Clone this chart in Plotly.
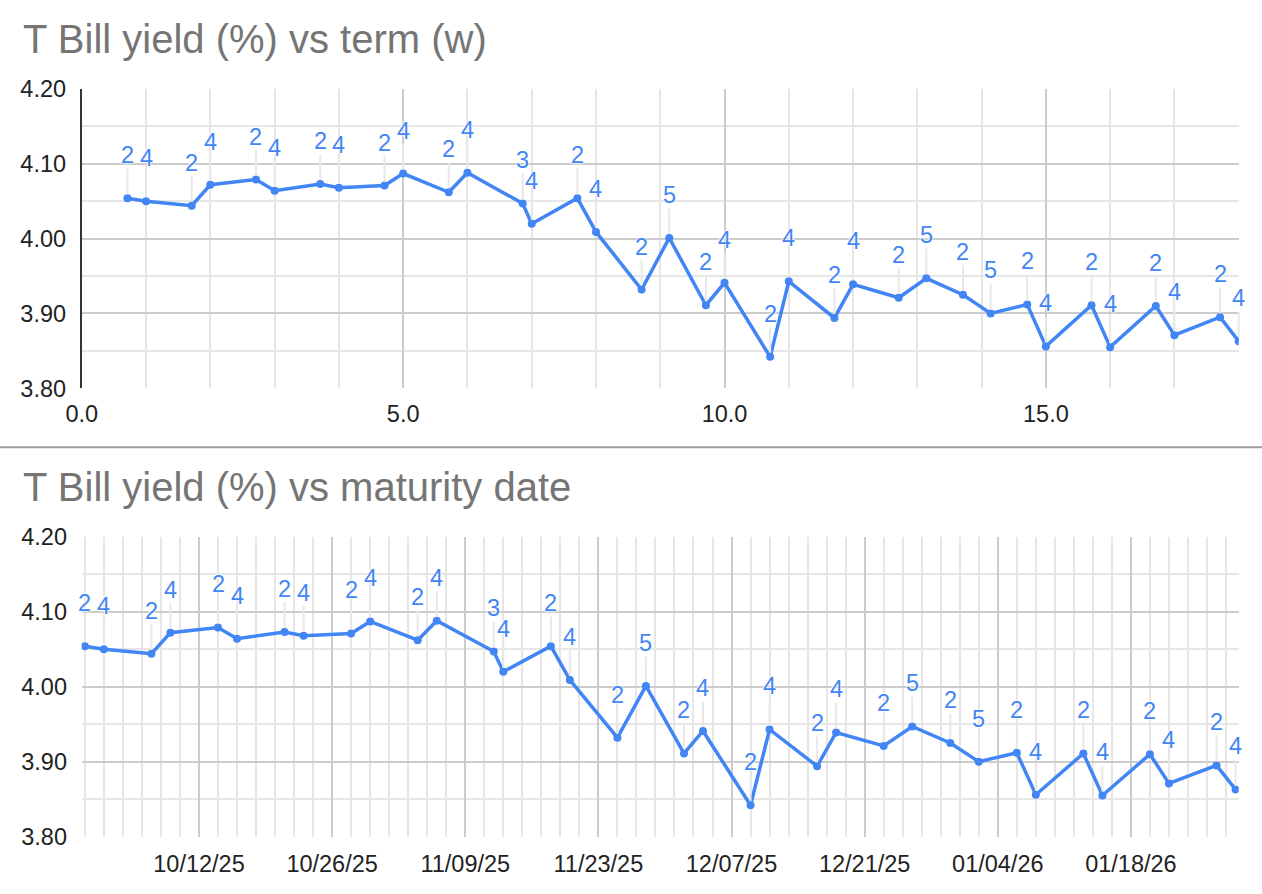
import plotly.graph_objects as go

# ---- data ----
term_weeks = [0.71, 1.0, 1.71, 2.0, 2.71, 3.0, 3.71, 4.0, 4.71, 5.0, 5.71, 6.0,
              6.86, 7.0, 7.71, 8.0, 8.71, 9.14, 9.71, 10.0, 10.71, 11.0, 11.71, 12.0,
              12.71, 13.14, 13.71, 14.14, 14.71, 15.0, 15.71, 16.0, 16.71, 17.0, 17.71, 18.0]
maturity_dates = ["2025-09-30", "2025-10-02", "2025-10-07", "2025-10-09", "2025-10-14", "2025-10-16",
                  "2025-10-21", "2025-10-23", "2025-10-28", "2025-10-30", "2025-11-04", "2025-11-06",
                  "2025-11-12", "2025-11-13", "2025-11-18", "2025-11-20", "2025-11-25", "2025-11-28",
                  "2025-12-02", "2025-12-04", "2025-12-09", "2025-12-11", "2025-12-16", "2025-12-18",
                  "2025-12-23", "2025-12-26", "2025-12-30", "2026-01-02", "2026-01-06", "2026-01-08",
                  "2026-01-13", "2026-01-15", "2026-01-20", "2026-01-22", "2026-01-27", "2026-01-29"]
yields = [4.054, 4.050, 4.044, 4.072, 4.079, 4.064, 4.073, 4.068, 4.071, 4.087, 4.062, 4.088,
          4.047, 4.020, 4.054, 4.009, 3.932, 4.001, 3.911, 3.941, 3.842, 3.943, 3.894, 3.939,
          3.921, 3.947, 3.925, 3.900, 3.912, 3.856, 3.911, 3.855, 3.910, 3.871, 3.895, 3.863]
point_labels = ["2", "4", "2", "4", "2", "4", "2", "4", "2", "4", "2", "4",
                "3", "4", "2", "4", "2", "5", "2", "4", "2", "4", "2", "4",
                "2", "5", "2", "5", "2", "4", "2", "4", "2", "4", "2", "4"]
title_top = "T Bill yield (%) vs term (w)"
title_bottom = "T Bill yield (%) vs maturity date"

# ---- style ----
W, H = 1262, 894
BLUE = "#4285F4"
FONT = "Liberation Sans, Arial, sans-serif"
MAJOR = "#cccccc"
MINOR = "#e6e6e6"

def px_x(p):
    return p / W

def px_y(p):
    return 1 - p / H

fig = go.Figure()
fig.add_trace(go.Scatter(x=term_weeks, y=yields, mode="lines+markers",
                         line=dict(color=BLUE, width=3.5), marker=dict(color=BLUE, size=8),
                         xaxis="x", yaxis="y", showlegend=False, hoverinfo="skip"))
fig.add_trace(go.Scatter(x=maturity_dates, y=yields, mode="lines+markers",
                         line=dict(color=BLUE, width=3.5), marker=dict(color=BLUE, size=8),
                         xaxis="x2", yaxis="y2", showlegend=False, hoverinfo="skip"))

annotations = []
for xs, xr, yr in ((term_weeks, "x", "y"), (maturity_dates, "x2", "y2")):
    for xv, yv, lab in zip(xs, yields, point_labels):
        annotations.append(dict(
            x=xv, y=yv, xref=xr, yref=yr, text=lab, showarrow=True,
            arrowhead=0, arrowwidth=2, arrowcolor="#e8e8e8", ax=0, ay=-43,
            standoff=4, borderpad=0,
            font=dict(family=FONT, size=23.5, color=BLUE,
                      shadow="0px 0px 2px white, 0px 0px 2px white, 0px 0px 2px white")))

annotations.append(dict(text=title_top, xref="paper", yref="paper", x=px_x(21), y=px_y(39),
                        xanchor="left", yanchor="middle", showarrow=False,
                        font=dict(family=FONT, size=40, color="#757575")))
annotations.append(dict(text=title_bottom, xref="paper", yref="paper", x=px_x(21), y=px_y(487),
                        xanchor="left", yanchor="middle", showarrow=False,
                        font=dict(family=FONT, size=40, color="#757575")))

tickfont = dict(family=FONT, size=23.5, color="#222222")
yaxis_common = dict(range=[3.8, 4.2], dtick=0.1, tick0=3.8, tickformat=".2f",
                    showgrid=True, gridcolor=MAJOR, gridwidth=1.5, zeroline=False,
                    ticks="outside", ticklen=9, tickcolor="rgba(0,0,0,0)",
                    tickfont=tickfont, automargin=False,
                    minor=dict(dtick=0.05, tick0=3.8, showgrid=True, gridcolor=MINOR, gridwidth=1.5))

fig.update_layout(
    width=W, height=H, margin=dict(l=0, r=0, t=0, b=0, autoexpand=False),
    paper_bgcolor="white", plot_bgcolor="white",
    xaxis=dict(domain=[px_x(81.8), px_x(1238.7)], anchor="y", range=[0, 18],
               dtick=5, tick0=0, tickformat=".1f", showgrid=True, gridcolor=MAJOR, gridwidth=1.5,
               zeroline=False, ticks="outside", ticklen=4, tickcolor="rgba(0,0,0,0)",
               tickfont=tickfont, automargin=False,
               minor=dict(dtick=1, tick0=0, showgrid=True, gridcolor=MINOR, gridwidth=1.5)),
    yaxis=dict(domain=[px_y(388.3), px_y(89)], anchor="x", showline=True,
               linecolor="#333333", linewidth=2, **yaxis_common),
    xaxis2=dict(domain=[px_x(81.7), px_x(1238.7)], anchor="y2",
                type="date", range=["2025-09-29 16:00", "2026-01-29 08:00"],
                dtick=14 * 86400000, tick0="2025-10-12", tickformat="%m/%d/%y",
                showgrid=True, gridcolor=MAJOR, gridwidth=1.5, zeroline=False,
                ticks="outside", ticklen=6, tickcolor="rgba(0,0,0,0)", tickfont=tickfont,
                automargin=False,
                minor=dict(dtick=2 * 86400000, tick0="2025-10-12", showgrid=True,
                           gridcolor=MINOR, gridwidth=1.5)),
    yaxis2=dict(domain=[px_y(836.7), px_y(536.7)], anchor="x2", **yaxis_common),
    annotations=annotations,
    shapes=[dict(type="line", xref="paper", yref="paper", x0=0, x1=1,
                 y0=px_y(447.3), y1=px_y(447.3), line=dict(color="#9e9e9e", width=2))],
)

fig.write_html("out.html", config={"displayModeBar": False},
               post_script="document.body.style.margin='0';")
